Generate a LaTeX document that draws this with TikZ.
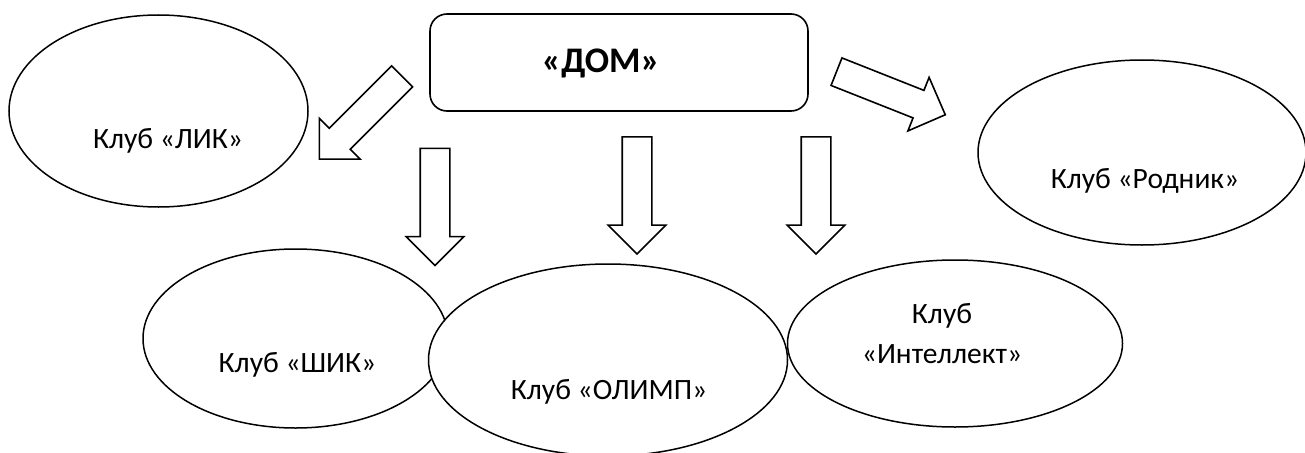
\documentclass[tikz,border=0pt]{standalone}
\usepackage{fontspec}
\setmainfont{Carlito}
\usetikzlibrary{shapes.geometric,shapes.arrows}
\tikzset{club/.style={ellipse, draw, fill=white, line width=1.5pt, inner sep=0pt}}
\tikzset{clubtext/.style={anchor=base, inner sep=0pt, font=\fontsize{29.5}{40}\selectfont}}
\tikzset{hub/.style={rectangle, draw, rounded corners=17pt, line width=1.6pt, minimum width=378pt, minimum height=97pt}}
\tikzset{hubtext/.style={anchor=base, inner sep=0pt, font=\fontsize{36}{40}\selectfont\bfseries}}
\tikzset{blockarrow/.style={single arrow, draw, line width=1.6pt, single arrow head extend=14pt, inner xsep=0pt, inner ysep=14pt, minimum height=117pt, rotate=#1}}
\tikzset{blockarrow/.default=-90}

\begin{document}
\begin{tikzpicture}[x=1pt,y=-1pt]
\useasboundingbox (0,0) rectangle (1305,452);

%centre
\node (dom) at (619,62.5)[hub]{};
\node (domt) at (601,72)[hubtext]{«ДОМ»};

%clubs
\node (lik) at (158.5,111)[club, minimum width=299pt, minimum height=192pt]{};
\node (likt) at (168,148)[clubtext]{Клуб «ЛИК»};
\node (rodnik) at (1142,152.5)[club, minimum width=328pt, minimum height=185pt]{};
\node (rodnikt) at (1145,188)[clubtext]{Клуб «Родник»};
\node (shik) at (295.5,338.5)[club, minimum width=305pt, minimum height=179pt]{};
\node (shikt) at (297.5,372)[clubtext]{Клуб «ШИК»};
\node (intel) at (955,343.5)[club, minimum width=335pt, minimum height=167pt]{};
\node (intelt) at (942,334)[clubtext, anchor=center, align=center]{Клуб\\«Интеллект»};
\node (olimp) at (608,360)[club, minimum width=359pt, minimum height=192pt]{};
\node (olimpt) at (609,399)[clubtext]{Клуб «ОЛИМП»};

%arrows
\node (arLik) at (366,112.5)[blockarrow=225]{};
\node (arRodnik) at (884,90.5)[blockarrow=-21.6]{};
\node (arShik) at (435,199.5)[blockarrow]{};
\node (arOlimp) at (637,188)[blockarrow]{};
\node (arIntel) at (816,188)[blockarrow]{};

\end{tikzpicture}
\end{document}
